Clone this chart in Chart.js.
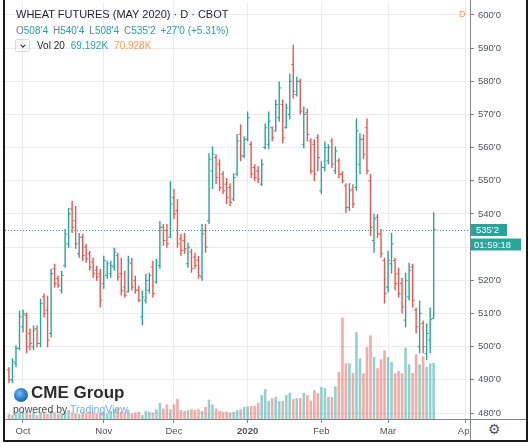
<!DOCTYPE html>
<html>
<head>
<meta charset="utf-8">
<title>Wheat futures (May 2020) - D - CBOT</title>
<script src="https://cdn.jsdelivr.net/npm/chart.js@4.4.1/dist/chart.umd.min.js"></script>
<style>
  body { margin: 0; background: #fff; }
  #wrap { position: relative; width: 531px; height: 447px; overflow: hidden; font-family: 'Liberation Sans', Arial, sans-serif; }
  #c { position: absolute; left: 0; top: 0; }
  .abs { position: absolute; white-space: nowrap; }
  #title { left: 16px; top: 8px; font-size: 11px; line-height: 13px; color: #1e222d; }
  #ohlc { left: 16px; top: 25px; font-size: 10px; line-height: 12px; color: #787b86; }
  #ohlc .v { color: #26a69a; margin-right: 5px; }
  #vol { left: 37px; top: 40px; font-size: 10px; line-height: 12px; color: #1e222d; }
  #vol .a { color: #26a69a; margin-left: 6px; }
  #vol .b { color: #ff9850; margin-left: 6px; }
  #chev { left: 15px; top: 39px; width: 15px; height: 13px; border: 1px solid #d6d9e0; border-radius: 2px; box-sizing: border-box; }
  #chev::after { content: ''; position: absolute; left: 5px; top: 3px; width: 3px; height: 3px; border-right: 1px solid #333; border-bottom: 1px solid #333; transform: rotate(45deg); }
  #dmark { left: 459px; top: 9px; font-size: 9px; line-height: 11px; color: #f6a24d; }
  #globe { left: 14px; top: 388px; width: 14px; height: 14px; border-radius: 50%; background: radial-gradient(circle at 40% 38%, #7dbcf0 0, #2c82d2 45%, #0f559e 100%); }
  #cme { left: 31px; top: 383px; font-size: 17px; line-height: 20px; font-weight: bold; color: #2d2d2d; }
  #pow { left: 13px; top: 403px; font-size: 10.5px; line-height: 12px; color: #4a4a4a; }
  #pow span { color: #6fb0e8; }
  #corner { left: 471px; top: 420px; width: 55px; height: 20px; background: #fff; }
  #gear { left: 488px; top: 421px; font-family: 'DejaVu Sans', sans-serif; font-size: 14px; line-height: 17px; color: #50535e; }
  #vline { left: 470px; top: 0; width: 1px; height: 441px; background: #80838c; }
  #hline { left: 5px; top: 419px; width: 522px; height: 1px; background: #80838c; }
  #frame { left: 3px; top: -5px; width: 525px; height: 447px; border: 2px solid #1a1a1a; box-sizing: border-box; }
</style>
</head>
<body>
<div id="wrap">
  <canvas id="c" width="531" height="447"></canvas>
  <div class="abs" id="title">WHEAT FUTURES (MAY 2020) · D · CBOT</div>
  <div class="abs" id="ohlc"></div>
  <div class="abs" id="chev"></div>
  <div class="abs" id="vol">Vol 20<span class="a">69.192K</span><span class="b">70.928K</span></div>
  <div class="abs" id="dmark">D</div>
  <div class="abs" id="globe"></div>
  <div class="abs" id="cme">CME Group</div>
  <div class="abs" id="pow">powered by <span>TradingView</span></div>
  <div class="abs" id="corner"></div>
  <div class="abs" id="gear">⚙</div>
  <div class="abs" id="vline"></div>
  <div class="abs" id="hline"></div>
  <div class="abs" id="frame"></div>
</div>
<script>
// trading days from 25 Sep 2019 to 19 Mar 2020, one entry per bar
const monthTicks = [4, 27, 47, 68, 89, 108, 130]
const monthLabels = ['Oct', 'Nov', 'Dec', '2020', 'Feb', 'Mar', 'Apr']
const priceTicks = [480, 490, 500, 510, 520, 530, 540, 550, 560, 570, 580, 590, 600]

const opens = [
  493, 490, 495, 499.5, 506, 509.5, 504, 500, 505.5, 501, 515, 511, 504, 523.5, 520.5, 517, 524.5, 531, 541.5, 538,
  528, 533, 530, 528, 525.5, 523, 522, 519, 521.5, 522, 524, 527.5, 522, 518, 516.5, 525, 520, 517, 509, 514,
  517, 524, 519.5, 524.5, 536, 535, 533, 545, 541, 532.5, 532, 525, 528.5, 527, 526, 521, 535, 538, 553, 557,
  555, 552, 549, 548, 544.5, 552, 564, 557.5, 562.5, 561, 554, 553, 549, 560, 561, 566, 565, 569, 573, 566,
  570, 585, 576, 580, 561, 570.5, 562, 561, 563, 547, 554, 556, 562, 553, 556, 552, 548.5, 542, 547.5, 548,
  555, 562.5, 566, 550, 532, 539, 534, 526, 518, 525, 526, 522, 519, 508, 515, 524, 511, 500, 507, 498,
  502, 508.5
]
const highs = [
  493.8, 496.5, 500.4, 510.9, 511.2, 510.3, 505.5, 506.4, 506.4, 514.5, 516, 515.4, 523.5, 525, 521.4, 522.9, 535.5, 541.8, 543.9, 542.4,
  534.3, 534, 531, 528.9, 526.8, 524.4, 523.5, 527.4, 525.9, 525.9, 529.8, 528.3, 526.8, 522.9, 527.4, 526.8, 521.4, 518.4, 516.9, 522,
  522.3, 525.9, 526.5, 537.9, 537, 537, 549.9, 547.5, 544.5, 534, 534.3, 531.3, 529.5, 528.3, 527.4, 537, 537, 558.3, 560.4, 558,
  556.5, 552.9, 550.8, 549.3, 552.3, 564, 567, 563.4, 570.9, 561.9, 555, 554.4, 556.5, 567.3, 570.9, 566.4, 574.5, 579.9, 574.5, 573.3,
  582.3, 591, 581.4, 580.8, 572.4, 571.8, 562.8, 562.5, 564, 555.9, 561.9, 561, 562.8, 560.4, 556.8, 552.9, 549.3, 549.3, 549, 568.8,
  564.3, 564, 568.8, 552, 540, 540, 535.5, 526.8, 528.9, 534.3, 526.8, 523.8, 520.8, 522.3, 525.3, 525, 511.8, 513.9, 507.9, 507,
  511.8, 540.5
]
const lows = [
  489, 489, 493.8, 498.9, 504.3, 498, 498.9, 498.9, 499.8, 499.8, 508.8, 499.8, 502.8, 517.8, 517.8, 516, 523.8, 529.8, 534.3, 529.5,
  526.8, 525.9, 525.3, 522.9, 520.8, 519.9, 511.8, 517.5, 520.5, 520.8, 522.9, 519.9, 515.4, 514.8, 516.3, 516.9, 516, 513.3, 506.4, 513,
  516, 514.8, 519, 523.5, 530.4, 529.8, 532.8, 538.5, 529.8, 527.4, 528, 523.8, 522.3, 523.5, 520.5, 519.9, 528.3, 537, 547.5, 549,
  546.9, 546, 543, 542.4, 543.9, 551.4, 555.9, 556.8, 561.9, 550.8, 549.9, 549.3, 548.4, 559.5, 559.5, 561.9, 564.9, 567.9, 561.3, 565.8,
  568.5, 574.8, 575.4, 570, 559.8, 561.9, 552, 549.9, 552.9, 546, 552.9, 555, 553.8, 552, 550.8, 549.3, 540.3, 540.9, 541.8, 546.9,
  552, 556.5, 552, 533.4, 528.3, 532.8, 526.8, 513, 516.3, 522, 516.9, 514.8, 510, 505.8, 513.9, 511.8, 504, 498, 498, 495.9,
  498, 508.5
]
const closes = [
  490, 495.5, 499.5, 509, 510, 500, 501, 505, 501, 513, 510, 502, 522, 519, 518.5, 521.5, 534, 540, 536, 531,
  533, 527.5, 526.5, 524, 522, 521, 514, 526, 525, 524.5, 528.5, 521, 517, 515.5, 525.5, 518, 517, 514, 515, 520,
  521.5, 516, 525.5, 536, 532, 531, 543, 540, 531, 529, 529.5, 530, 523.5, 524.5, 521.5, 534, 530, 556.5, 558, 551,
  548, 547, 545, 543.5, 551, 562, 557.5, 562.5, 569, 552, 551, 550.5, 555, 566, 568, 563, 573, 578, 563, 572,
  580, 577, 580, 571, 570, 564, 553, 552, 557, 554, 560, 560, 555, 559, 552, 550, 542, 547, 543, 565,
  562.5, 558, 553, 536, 538.5, 534, 528, 516, 526, 531, 519, 516, 512, 520, 523, 514, 506, 510, 500, 504,
  508.25, 535.25
]
// volume in thousands of contracts
const volumes = [
  6, 5, 7, 8, 10, 7, 6, 8, 5, 9, 7, 6, 10, 8, 6, 7, 9, 11, 8, 7,
  6, 8, 7, 9, 8, 7, 8, 9, 7, 10, 12, 14, 9, 8, 11, 7, 8, 9, 5, 10,
  9, 8, 12, 20, 13, 18, 12, 18, 25, 11, 10, 11, 12, 11, 12, 10, 15, 24, 18, 13,
  10, 9, 9, 8, 9, 11, 12, 15, 15.4, 16, 16, 20, 29.5, 36.9, 22.5, 25.8, 27.4, 22.1, 22.1, 29.5,
  32.3, 24.6, 25.8, 25.8, 32.3, 29.5, 22.5, 35.6, 31.9, 39.3, 38.1, 27.4, 27, 40.5, 58.1, 125.3, 68.8, 68.8, 56.9, 107.2,
  74.9, 56.5, 88.8, 103.2, 76.5, 62.7, 73.7, 84.8, 76.5, 70.4, 56.5, 59.3, 56.5, 88.1, 67.6, 56.9, 79.9, 67.6, 77.4, 64.2,
  68.8, 69.2
]

const up = '#26a69a'
const down = '#ef5350'
const fontFamily = "'Liberation Sans', Arial, sans-serif"
Chart.defaults.font.family = fontFamily

// price in cents with eighths, e.g. 535.25 -> 535'2
function fmt(p) {
  const whole = Math.floor(p + 1e-9)
  return whole + "'" + Math.round((p - whole) * 8)
}

const idx = opens.map((o, i) => i)
const barColor = idx.map(i => (closes[i] >= opens[i] ? up : down))
const volColor = idx.map(i => (closes[i] >= opens[i] ? 'rgba(38,166,154,0.5)' : 'rgba(239,83,80,0.5)'))

// header line with the last bar
const last = closes.length - 1
const chg = closes[last] - closes[last - 1]
const pct = (chg / closes[last - 1]) * 100
document.getElementById('ohlc').innerHTML =
  'O<span class="v">' + fmt(opens[last]) + '</span>' +
  'H<span class="v">' + fmt(highs[last]) + '</span>' +
  'L<span class="v">' + fmt(lows[last]) + '</span>' +
  'C<span class="v">' + fmt(closes[last]) + '</span>' +
  '<span class="v">+' + fmt(chg) + ' (+' + pct.toFixed(2) + '%)</span>'

const priceLine = {
  id: 'priceLine',
  afterDatasetsDraw(chart) {
    const { ctx, chartArea, scales } = chart
    const py = Math.round(scales.y.getPixelForValue(closes[last])) + 0.5
    ctx.save()
    ctx.strokeStyle = up
    ctx.lineWidth = 1
    ctx.setLineDash([1, 2])
    ctx.beginPath()
    ctx.moveTo(chartArea.left, py)
    ctx.lineTo(chartArea.right + 4, py)
    ctx.stroke()
    ctx.setLineDash([])
    ctx.fillStyle = up
    ctx.fillRect(chartArea.right + 1, py - 6.5, 36, 12)
    ctx.fillRect(chartArea.right + 1, py + 8, 50, 12)
    ctx.fillStyle = '#fff'
    ctx.font = '9.5px ' + fontFamily
    ctx.textBaseline = 'middle'
    ctx.textAlign = 'left'
    ctx.fillText(fmt(closes[last]), chartArea.right + 6, py)
    ctx.fillText('01:59:18', chartArea.right + 4, py + 14.5)
    ctx.restore()
  }
}

new Chart(document.getElementById('c'), {
  type: 'bar',
  data: {
    datasets: [
      {
        type: 'scatter',
        label: 'open',
        data: idx.map(i => ({ x: i - 0.3, y: opens[i] })),
        pointStyle: 'line',
        pointRadius: 1,
        pointHoverRadius: 0,
        pointBorderWidth: 1,
        pointBorderColor: barColor,
        order: 1
      },
      {
        type: 'scatter',
        label: 'close',
        data: idx.map(i => ({ x: i + 0.3, y: closes[i] })),
        pointStyle: 'line',
        pointRadius: 1,
        pointHoverRadius: 0,
        pointBorderWidth: 1,
        pointBorderColor: barColor,
        order: 1
      },
      {
        label: 'range',
        data: idx.map(i => ({ x: i, y: [lows[i], highs[i]] })),
        backgroundColor: barColor,
        barThickness: 1.4,
        grouped: false,
        inflateAmount: 0,
        order: 2
      },
      {
        label: 'volume',
        yAxisID: 'yv',
        data: idx.map(i => ({ x: i, y: volumes[i] })),
        backgroundColor: volColor,
        barThickness: 2.6,
        grouped: false,
        inflateAmount: 0,
        order: 3
      }
    ]
  },
  options: {
    responsive: false,
    animation: false,
    events: [],
    layout: { padding: { left: 5, top: 0, right: 0, bottom: 0 } },
    plugins: { legend: { display: false }, tooltip: { enabled: false } },
    scales: {
      x: {
        type: 'linear',
        min: -1.128,
        max: 131.35,
        offset: false,
        afterBuildTicks: s => { s.ticks = monthTicks.map(v => ({ value: v })) },
        afterFit: s => { s.height = 28; s.paddingLeft = 0; s.paddingRight = 0 },
        grid: { offset: false, color: '#e9ecf1', tickColor: '#80838c', tickLength: 4 },
        border: { display: false },
        ticks: {
          autoSkip: false,
          maxRotation: 0,
          padding: 3,
          color: '#50535e',
          font: c => ({ size: 9.5, weight: c.tick && c.tick.value === 68 ? 'bold' : 'normal' }),
          callback: (v, i) => monthLabels[i]
        }
      },
      y: {
        position: 'right',
        min: 478.2,
        max: 603.9,
        afterBuildTicks: s => { s.ticks = priceTicks.map(v => ({ value: v })) },
        afterFit: s => { s.width = 61; s.paddingTop = 0; s.paddingBottom = 0 },
        grid: { color: '#e9ecf1', tickColor: '#80838c', tickLength: 4 },
        border: { display: false },
        ticks: { padding: 4, color: '#50535e', font: { size: 9.5 }, callback: v => v + "'0" }
      },
      yv: { display: false, min: 0, max: 515 }
    }
  },
  plugins: [priceLine]
})
</script>
</body>
</html>
